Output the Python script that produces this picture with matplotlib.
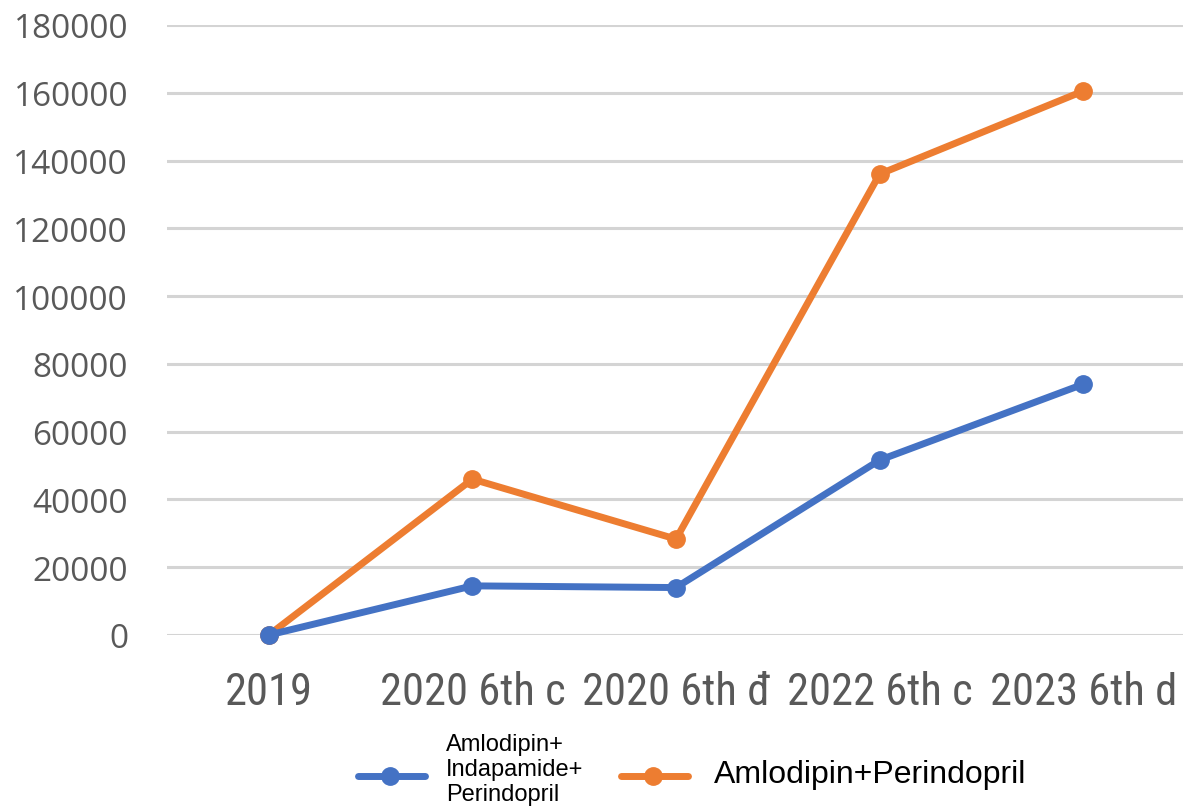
import matplotlib
matplotlib.use("Agg")
import matplotlib.pyplot as plt
from matplotlib import font_manager
from matplotlib.lines import Line2D

# Data
categories = ["2019", "2020 6th c", "2020 6th đ", "2022 6th c", "2023 6th d"]
aip_values = [0, 14500, 14000, 51600, 74000]      # Amlodipin+Indapamide+Perindopril
ap_values = [0, 46000, 28300, 136000, 160500]     # Amlodipin+Perindopril
series_labels = ["Amlodipin+\nIndapamide+\nPerindopril", "Amlodipin+Perindopril"]
y_ticks = list(range(0, 180001, 20000))

BLUE = "#4472C4"
ORANGE = "#ED7D31"
GREY_TXT = "#595959"
GRID = "#D4D4D4"

# Prefer a narrow sans for the category labels when one is available
installed = {f.name for f in font_manager.fontManager.ttflist}
narrow = None
for name in ["Liberation Sans Narrow", "Arial Narrow", "Roboto Condensed",
             "Open Sans Condensed", "DejaVu Sans Condensed"]:
    if name in installed:
        narrow = name
        break
if narrow is not None:
    xlab_font, xlab_size = [narrow, "DejaVu Sans"], 32
else:
    xlab_font, xlab_size = ["Liberation Sans", "DejaVu Sans"], 27

W, H = 1183, 812
fig = plt.figure(figsize=(W / 100, H / 100), dpi=100)
fig.patch.set_facecolor("white")


def fx(px):
    return px / W


def fy(py):
    return 1 - py / H


ax = fig.add_axes([fx(167), fy(636), (1185 - 167) / W, 610 / H])
x = list(range(len(categories)))

line_kw = dict(linewidth=5, marker="o", markersize=12.5, solid_capstyle="round",
               clip_on=False, zorder=3)
ax.plot(x, ap_values, color=ORANGE, **line_kw)
ax.plot(x, aip_values, color=BLUE, **line_kw)

ax.set_xlim(-0.5, len(categories) - 0.5)
ax.set_ylim(0, 180000)
ax.set_yticks(y_ticks)
ax.set_yticklabels([str(v) for v in y_ticks], fontfamily="Open Sans",
                   fontsize=24, color=GREY_TXT)
ax.set_xticks(x)
ax.set_xticklabels(categories, fontfamily=xlab_font, fontsize=xlab_size,
                   color=GREY_TXT)
ax.tick_params(axis="y", length=0, pad=28)
ax.tick_params(axis="x", length=0, pad=26)
for s in ax.spines.values():
    s.set_visible(False)
ax.yaxis.grid(True, color=GRID, linewidth=2.2)
ax.set_axisbelow(True)

# Legend drawn at the bottom of the figure
for (x0, x1, xm, color) in [(358, 425, 390, BLUE), (621, 688, 653, ORANGE)]:
    fig.add_artist(Line2D([fx(x0), fx(x1)], [fy(777), fy(777)], color=color,
                          linewidth=5, solid_capstyle="round",
                          transform=fig.transFigure))
    fig.add_artist(Line2D([fx(xm)], [fy(777)], color=color, marker="o",
                          markersize=12.5, linestyle="none",
                          transform=fig.transFigure))

fig.text(fx(446), fy(770), series_labels[0], fontfamily="Liberation Sans",
         fontsize=17, color="black", ha="left", va="center", linespacing=1.2)
fig.text(fx(714), fy(775), series_labels[1], fontfamily="Liberation Sans",
         fontsize=23, color="black", ha="left", va="center")

fig.savefig("out.png", dpi=100, facecolor="white")
